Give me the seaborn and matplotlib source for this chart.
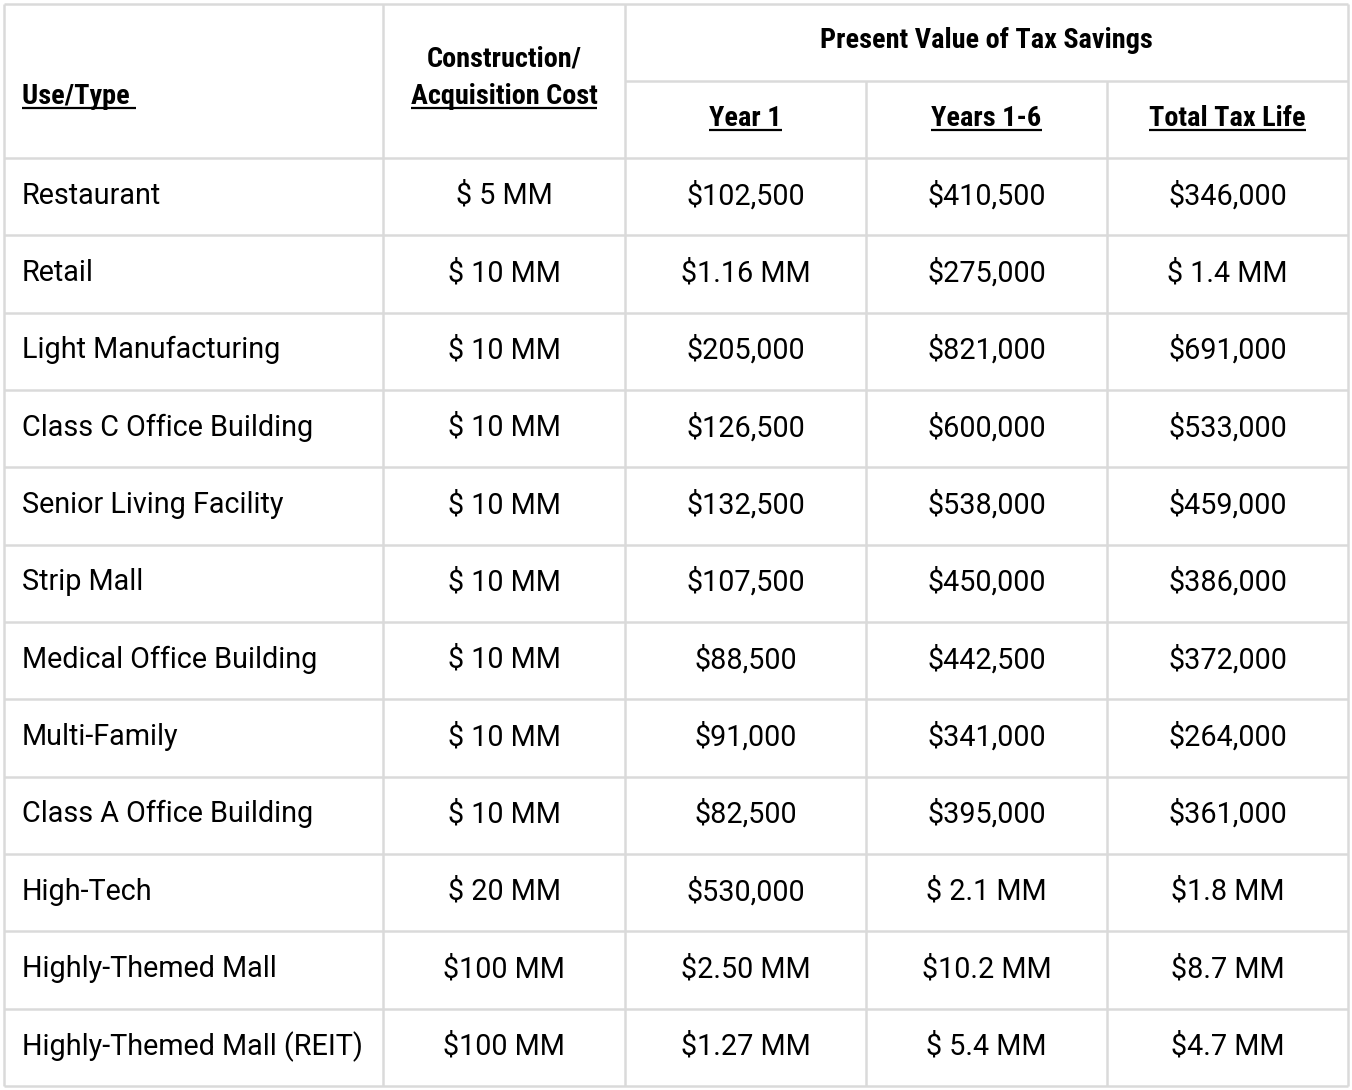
import matplotlib
matplotlib.use("Agg")
import matplotlib.pyplot as plt
import seaborn as sns

# table contents
use_types = ["Restaurant", "Retail", "Light Manufacturing", "Class C Office Building",
             "Senior Living Facility", "Strip Mall", "Medical Office Building",
             "Multi-Family", "Class A Office Building", "High-Tech",
             "Highly-Themed Mall", "Highly-Themed Mall (REIT)"]
construction_cost = ["$ 5 MM", "$ 10 MM", "$ 10 MM", "$ 10 MM", "$ 10 MM", "$ 10 MM",
                     "$ 10 MM", "$ 10 MM", "$ 10 MM", "$ 20 MM", "$100 MM", "$100 MM"]
year1 = ["$102,500", "$1.16 MM", "$205,000", "$126,500", "$132,500", "$107,500",
         "$88,500", "$91,000", "$82,500", "$530,000", "$2.50 MM", "$1.27 MM"]
years1_6 = ["$410,500", "$275,000", "$821,000", "$600,000", "$538,000", "$450,000",
            "$442,500", "$341,000", "$395,000", "$ 2.1 MM", "$10.2 MM", "$ 5.4 MM"]
total_tax_life = ["$346,000", "$ 1.4 MM", "$691,000", "$533,000", "$459,000", "$386,000",
                  "$372,000", "$264,000", "$361,000", "$1.8 MM", "$8.7 MM", "$4.7 MM"]
header_cols = ["Year 1", "Years 1-6", "Total Tax Life"]

sns.set_theme(style="white")
plt.rcParams['font.family'] = ['Roboto', 'DejaVu Sans']
head_family = ['Roboto Condensed', 'Roboto', 'DejaVu Sans']

W, H = 1352, 1090
fig = plt.figure(figsize=(W / 100, H / 100), dpi=100)
ax = fig.add_axes([0, 0, 1, 1])
ax.set_xlim(0, W)
ax.set_ylim(H, 0)
ax.axis("off")
renderer = fig.canvas.get_renderer()


def fit_size(s, width_px, **kw):
    # font size that makes string s about width_px wide
    t = ax.text(0, 0, s, fontsize=20, **kw)
    w = t.get_window_extent(renderer).width
    t.remove()
    return 20 * width_px / w


col_x = [4, 383, 625, 866, 1107, 1348]
top, sub_line, head_bottom, bottom = 4, 81, 158, 1086
n = len(use_types)
row_h = (bottom - head_bottom) / n
grid_color = "#dadada"
lw = 1.8

# grid
for i in range(n + 1):
    ax.hlines(head_bottom + i * row_h, col_x[0], col_x[-1], color=grid_color, lw=lw)
ax.hlines(top, col_x[0], col_x[-1], color=grid_color, lw=lw)
ax.hlines(sub_line, col_x[2], col_x[-1], color=grid_color, lw=lw)
for j, x in enumerate(col_x):
    y0 = sub_line if j in (3, 4) else top
    ax.vlines(x, y0, bottom, color=grid_color, lw=lw)

# header
hsize = min(fit_size("Present Value of Tax Savings", 342, fontweight="bold", family=head_family), 20.3)
hdr = dict(fontsize=hsize, fontweight="bold", color="black", va="center", family=head_family)
underlined = []
underlined.append(ax.text(22, 97, "Use/Type ", ha="left", **hdr))
ax.text((col_x[1] + col_x[2]) / 2, 59, "Construction/", ha="center", **hdr)
underlined.append(ax.text((col_x[1] + col_x[2]) / 2, 97, "Acquisition Cost", ha="center", **hdr))
ax.text((col_x[2] + col_x[-1]) / 2, 41, "Present Value of Tax Savings", ha="center", **hdr)
for j, label in enumerate(header_cols):
    underlined.append(ax.text((col_x[j + 2] + col_x[j + 3]) / 2, 119, label, ha="center", **hdr))

# body
bsize = fit_size("Highly-Themed Mall (REIT)", 340)
body = dict(fontsize=bsize, color="black", va="center")
columns = [construction_cost, year1, years1_6, total_tax_life]
for i in range(n):
    yc = head_bottom + (i + 0.5) * row_h - 1
    ax.text(22, yc, use_types[i], ha="left", **body)
    for j, col in enumerate(columns):
        ax.text((col_x[j + 1] + col_x[j + 2]) / 2, yc, col[i], ha="center", **body)

# underline the header labels
fig.canvas.draw()
inv = ax.transData.inverted()
for t in underlined:
    bb = t.get_window_extent(renderer)
    (x0, y0), (x1, y1) = inv.transform([[bb.x0, bb.y0], [bb.x1, bb.y1]])
    ax.hlines(max(y0, y1) - 3, x0, x1, color="black", lw=1.6)

fig.savefig("out.png", dpi=100, facecolor="white")
